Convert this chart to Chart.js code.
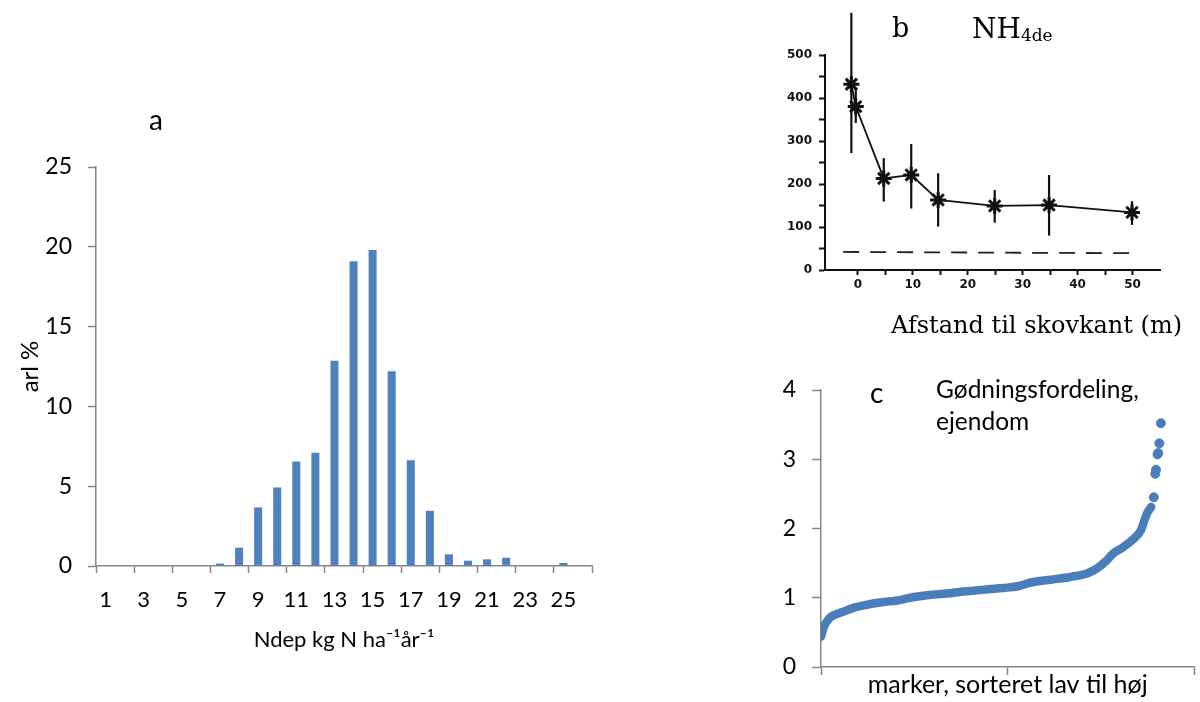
<!DOCTYPE html>
<html>
<head>
<meta charset="utf-8">
<script src="https://cdn.jsdelivr.net/npm/chart.js@4.4.1/dist/chart.umd.min.js"></script>
<style>
  html, body { margin: 0; padding: 0; background: #fff; }
  #wrap { position: relative; width: 1200px; height: 702px; overflow: hidden; }
  canvas { position: absolute; }
</style>
</head>
<body>
<div id="wrap">
  <canvas id="chartA" width="640" height="702" style="left:0;top:0"></canvas>
  <canvas id="chartB" width="440" height="360" style="left:760px;top:0"></canvas>
  <canvas id="chartC" width="440" height="342" style="left:760px;top:360px"></canvas>
</div>
<script>
// a: arealfordeling af N-deposition
const ndepKlasser = ['1','2','3','4','5','6','7','8','9','10','11','12','13','14','15','16','17','18','19','20','21','22','23','24','25','26']
const arealPct = [0, 0, 0, 0, 0, 0, 0.15, 1.15, 3.67, 4.92, 6.54, 7.1, 12.86, 19.1, 19.8, 12.2, 6.63, 3.46, 0.73, 0.33, 0.42, 0.52, 0, 0, 0.19, 0]

// b: NH4 afsat ved skovbryn
const afstand = [-1.2, -0.4, 4.7, 9.7, 14.6, 24.9, 34.8, 49.9]
const nh4 = [432, 380, 213, 221, 163, 149, 151, 134]
const nh4Min = [272, 342, 159, 143, 101, 110, 80, 105]
const nh4Max = [598, 420, 260, 293, 225, 186, 221, 160]
const baggrundX = [-2.7, 50]
const baggrundY = [42, 39]
const afstandTicks = [0, 5, 10, 15, 20, 25, 30, 35, 40, 45, 50]
const nh4Ticks = [0, 50, 100, 150, 200, 250, 300, 350, 400, 450, 500]

// c: gødning pr. mark, sorteret
const rangBand = [0, 3, 6, 10, 15, 20, 28, 40, 55, 70, 90, 115, 143, 170, 204, 230, 249, 290, 337, 380, 425, 465, 504, 530, 562, 615, 667, 712, 738, 765, 782, 809, 835, 857, 866, 875, 884]
const goedBand = [0.44, 0.50, 0.55, 0.61, 0.65, 0.69, 0.73, 0.76, 0.79, 0.82, 0.86, 0.89, 0.92, 0.94, 0.96, 0.99, 1.01, 1.04, 1.06, 1.09, 1.11, 1.13, 1.15, 1.17, 1.22, 1.26, 1.30, 1.35, 1.42, 1.54, 1.64, 1.73, 1.84, 1.98, 2.12, 2.24, 2.31]
const rangTop = [891, 895, 897, 901, 903, 906, 910]
const goedTop = [2.45, 2.79, 2.85, 3.07, 3.09, 3.23, 3.52]

const graa = '#868686'
const blaa = '#4F81BD'
Chart.defaults.font.family = 'Lato'
Chart.defaults.color = '#000'

function fritekst(items) {
  return {
    id: 'fritekst',
    afterDraw(chart) {
      const ctx = chart.ctx
      ctx.save()
      ctx.fillStyle = '#000'
      ctx.textBaseline = 'alphabetic'
      items.forEach(t => {
        ctx.font = t.font
        ctx.fillText(t.text, t.x, t.y)
        if (t.sub) {
          const w = ctx.measureText(t.text).width
          ctx.font = t.subFont
          ctx.fillText(t.sub, t.x + w, t.y + 3)
        }
      })
      ctx.restore()
    }
  }
}

// a
new Chart(document.getElementById('chartA'), {
  type: 'bar',
  data: {
    labels: ndepKlasser,
    datasets: [{ data: arealPct, backgroundColor: blaa, barPercentage: 0.42, categoryPercentage: 1 }]
  },
  options: {
    responsive: false, animation: false, devicePixelRatio: 1,
    layout: { padding: { top: 167, right: 48, left: 0, bottom: 0 } },
    plugins: { legend: { display: false }, tooltip: { enabled: false } },
    scales: {
      x: {
        grid: {
          drawOnChartArea: false, tickLength: 7, tickWidth: 1.5,
          tickColor: c => (c.index === undefined || c.index % 2 === 0) ? graa : 'rgba(0,0,0,0)'
        },
        border: { color: graa, width: 1.5 },
        ticks: {
          autoSkip: false, maxRotation: 0, padding: 14, font: { size: 22 },
          callback: (v, i) => i % 2 === 0 ? ndepKlasser[i] : ''
        },
        title: { display: true, text: 'Ndep kg N ha⁻¹år⁻¹', font: { size: 22 }, padding: { top: 0, bottom: 49 } },
        afterFit: s => { s.height = 136 }
      },
      y: {
        min: 0, max: 25,
        ticks: { stepSize: 5, padding: 16, font: { size: 23 } },
        grid: { drawOnChartArea: false, tickLength: 8, tickWidth: 1.5, tickColor: graa },
        border: { color: graa, width: 1.5 },
        title: { display: true, text: 'arl %', font: { size: 24 }, padding: { top: 16, bottom: 0 } },
        afterFit: s => { s.width = 96 }
      }
    }
  },
  plugins: [fritekst([{ text: 'a', x: 149, y: 130, font: '28px Lato' }])]
})

// b
const fejlstreger = {
  id: 'fejlstreger',
  beforeDatasetsDraw(chart) {
    const { ctx, scales: { x, y } } = chart
    ctx.save()
    ctx.strokeStyle = '#111'
    ctx.lineWidth = 2.2
    afstand.forEach((d, i) => {
      const px = x.getPixelForValue(d)
      ctx.beginPath()
      ctx.moveTo(px, y.getPixelForValue(nh4Min[i]))
      ctx.lineTo(px, y.getPixelForValue(nh4Max[i]))
      ctx.stroke()
    })
    ctx.restore()
  }
}

new Chart(document.getElementById('chartB'), {
  type: 'scatter',
  data: {
    datasets: [
      {
        data: afstand.map((d, i) => ({ x: d, y: nh4[i] })),
        showLine: true, borderColor: '#111', borderWidth: 1.8,
        pointStyle: 'star', pointRadius: 8, pointBorderWidth: 3, pointBorderColor: '#111', pointBackgroundColor: '#111',
        clip: false
      },
      {
        data: baggrundX.map((d, i) => ({ x: d, y: baggrundY[i] })),
        showLine: true, borderColor: '#222', borderWidth: 1.8, borderDash: [16, 11], pointRadius: 0
      }
    ]
  },
  options: {
    responsive: false, animation: false, devicePixelRatio: 1,
    layout: { padding: { top: 55, right: 40, left: 0, bottom: 0 } },
    plugins: { legend: { display: false }, tooltip: { enabled: false } },
    scales: {
      x: {
        type: 'linear', min: -6, max: 55,
        afterBuildTicks: s => { s.ticks = afstandTicks.map(v => ({ value: v })) },
        ticks: { padding: 3, font: { family: 'DejaVu Sans', size: 12, weight: 'bold' }, color: '#111', callback: v => v % 10 === 0 ? v : '' },
        grid: { drawOnChartArea: false, tickLength: 5, tickWidth: 2, tickColor: '#111' },
        border: { color: '#111', width: 2 },
        afterFit: s => { s.height = 90 }
      },
      y: {
        min: 0, max: 500,
        afterBuildTicks: s => { s.ticks = nh4Ticks.map(v => ({ value: v })) },
        ticks: { padding: 7, font: { family: 'DejaVu Sans', size: 12, weight: 'bold' }, color: '#111', callback: v => v % 100 === 0 ? v : '' },
        grid: { drawOnChartArea: false, tickLength: 6, tickWidth: 2, tickColor: '#111' },
        border: { color: '#111', width: 2 },
        afterFit: s => { s.width = 65 }
      }
    }
  },
  plugins: [fejlstreger, fritekst([
    { text: 'b', x: 132, y: 37, font: '27px "DejaVu Serif"' },
    { text: 'NH', x: 212, y: 38, font: '28px "DejaVu Serif"', sub: '4de', subFont: '17px "DejaVu Serif"' },
    { text: 'Afstand til skovkant (m)', x: 131, y: 333, font: '24px "DejaVu Serif"' }
  ])]
})

// c
new Chart(document.getElementById('chartC'), {
  type: 'scatter',
  data: {
    datasets: [
      {
        data: rangBand.map((r, i) => ({ x: r, y: goedBand[i] })),
        showLine: true, borderColor: '#4A7EBB', borderWidth: 8.5, borderCapStyle: 'round', borderJoinStyle: 'round',
        cubicInterpolationMode: 'monotone', pointRadius: 0
      },
      {
        data: rangTop.map((r, i) => ({ x: r, y: goedTop[i] })),
        backgroundColor: '#4A7EBB', borderColor: '#4A7EBB', pointRadius: 4.5
      }
    ]
  },
  options: {
    responsive: false, animation: false, devicePixelRatio: 1,
    layout: { padding: { top: 30, right: 1, left: 0, bottom: 0 } },
    plugins: { legend: { display: false }, tooltip: { enabled: false } },
    scales: {
      x: {
        min: 0, max: 1000,
        ticks: { stepSize: 500, callback: () => '' },
        grid: { drawOnChartArea: false, tickLength: 8, tickWidth: 1.5, tickColor: graa },
        border: { color: graa, width: 1.5 },
        title: { display: true, text: 'marker, sorteret lav til høj', font: { size: 25 }, padding: { top: 0, bottom: 2 } },
        afterFit: s => { s.height = 35 }
      },
      y: {
        min: 0, max: 4,
        ticks: { stepSize: 1, padding: 16, font: { size: 23 } },
        grid: { drawOnChartArea: false, tickLength: 9, tickWidth: 1.5, tickColor: graa },
        border: { color: graa, width: 1.5 },
        afterFit: s => { s.width = 61 }
      }
    }
  },
  plugins: [fritekst([
    { text: 'c', x: 110, y: 43, font: '28px Lato' },
    { text: 'Gødningsfordeling,', x: 176, y: 38, font: '24.5px Lato' },
    { text: 'ejendom', x: 176, y: 70, font: '24.5px Lato' }
  ])]
})
</script>
</body>
</html>
